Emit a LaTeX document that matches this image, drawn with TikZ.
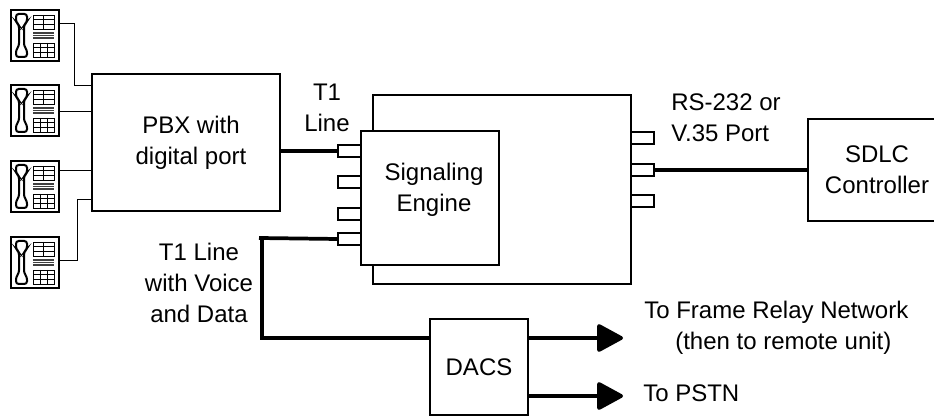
\documentclass[tikz,border=0pt]{standalone}
\usepackage{fontspec}
\setmainfont{Liberation Sans}
\usetikzlibrary{arrows.meta}
\tikzset{
 x=0.75pt,y=-0.75pt,
 boxn/.style={draw,line width=1.6pt,rectangle,inner sep=0pt,outer sep=0pt,align=center,font=\fontsize{18}{23}\selectfont},
 portn/.style={draw,fill=white,line width=1.5pt,rectangle,inner sep=0pt,outer sep=0pt,minimum width=17.25pt,minimum height=9pt},
 lbl/.style={inner sep=0pt,align=center,font=\fontsize{18}{23}\selectfont},
 wire/.style={line width=0.75pt},
 heavy/.style={line width=2.8pt},
 big arrow/.style={line width=2.8pt,-{Triangle[round,length=21pt,width=22pt]}},
 phone/.pic={
  \draw[line width=1.9pt] (0,0) rectangle (48,51);
  \draw[line width=1.5pt,rounded corners=2pt] (5,4) -- (16,4) -- (16,12) -- (13,15) -- (13,36) -- (16,40) -- (16,47) -- (5,47) -- (5,40) -- (8,36) -- (8,15) -- (5,12) -- cycle;
  \draw[line width=0.6pt] (22,5) rectangle (43,19) (32.5,5) -- (32.5,19) (22,9.5) -- (43,9.5) (22,14) -- (43,14);
  \fill[black!75] (22,22) rectangle (43,29);
  \draw[white,line width=0.4pt] (22,24.3) -- (43,24.3) (22,26.6) -- (43,26.6);
  \draw[line width=0.6pt] (22,33) rectangle (43,47) (29,33) -- (29,47) (36,33) -- (36,47) (22,37.6) -- (43,37.6) (22,42.3) -- (43,42.3);
 }
}
\begin{document}
\begin{tikzpicture}
\useasboundingbox (0,0) rectangle (934,416);
\clip (0,0) rectangle (934,416);
% phones
\coordinate (p1) at (11,10); \coordinate (p2) at (11,85); \coordinate (p3) at (11,161); \coordinate (p4) at (11,237);
\pic at (p1) {phone}; \pic at (p2) {phone}; \pic at (p3) {phone}; \pic at (p4) {phone};
\coordinate (p1e) at (59,24); \coordinate (p2e) at (59,112); \coordinate (p3e) at (59,171); \coordinate (p4e) at (59,261);
% boxes
\node[boxn,minimum width=141pt,minimum height=102.75pt] (pbx) at (186,142.5) {};
\node[lbl] (pbxt) at (191,142.5) {PBX with\\digital port};
\node[boxn,minimum width=193.5pt,minimum height=141.75pt] (outer) at (502,189.5) {};
\node[boxn,fill=white,minimum width=103.5pt,minimum height=100.5pt] (se) at (430,198) {};
\node[lbl] (setxt) at (434,190) {Signaling\\Engine};
\node[boxn,minimum width=102.75pt,minimum height=76.5pt] (sdlc) at (876.5,170) {};
\node[lbl] (sdlct) at (877,170) {SDLC\\Controller};
\node[boxn,minimum width=73.5pt,minimum height=72pt] (dacs) at (479,367) {DACS};
% ports
\node[portn] (a1) at (349.5,151) {};
\node[portn] (a2) at (349.5,182) {};
\node[portn] (a3) at (349.5,214) {};
\node[portn] (a4) at (349.5,239) {};
\node[portn] (b1) at (642.5,138.5) {};
\node[portn] (b2) at (642.5,170) {};
\node[portn] (b3) at (642.5,201) {};
% phone wires
\draw[wire] (p1e) -| (74,86) -- (pbx.west |- 0,86);
\draw[wire] (p2e) -- (pbx.west |- p2e);
\draw[wire] (p3e) -- (pbx.west |- p3e);
\draw[wire] (p4e) -| (77,200) -- (pbx.west |- 0,200);
% thick wires
\draw[heavy] (pbx.east |- a1) -- (a1.west);
\draw[heavy] (b2.east) -- (sdlc.west);
\coordinate (tee) at (262,238);
\draw[heavy] (a4.west) -- (259,238);
\draw[heavy] (tee) -- (tee |- 0,338) -- (dacs.west |- 0,338);
\coordinate (toa) at (623,338); \coordinate (tob) at (623,396);
\draw[big arrow] (dacs.east |- toa) -- (toa);
\draw[big arrow] (dacs.east |- tob) -- (tob);
% labels
\node[lbl] at (327,108) {T1\\Line};
\node[lbl,align=left,anchor=west] at (671,118) {RS-232 or\\V.35 Port};
\node[lbl] at (199,283) {T1 Line\\with Voice\\and Data};
\node[lbl,align=left,anchor=west] at (644,328) {To Frame Relay Network\\\hspace{23.25pt}(then to remote unit)};
\node[lbl,anchor=west] at (643,393) {To PSTN};
\end{tikzpicture}
\end{document}
